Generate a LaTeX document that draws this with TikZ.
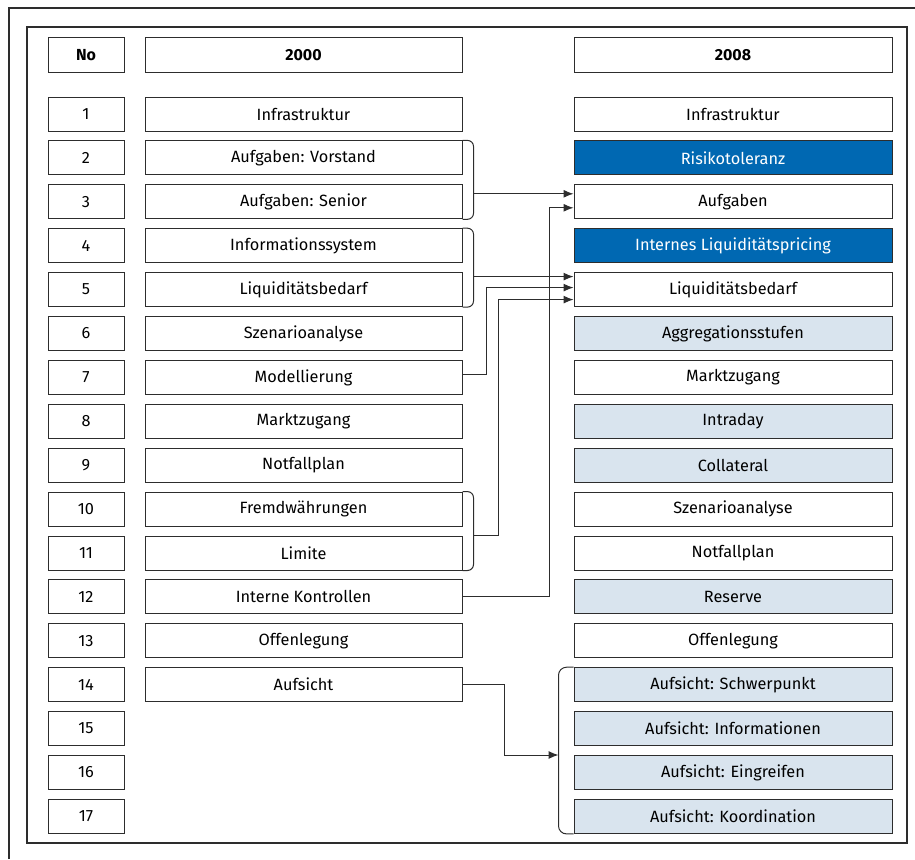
\documentclass[tikz,border=0pt]{standalone}
\usepackage{fontspec}
\setmainfont{Fira Sans}
\usetikzlibrary{arrows.meta,calc}
\definecolor{dblue}{RGB}{0,104,178}
\definecolor{lblue}{RGB}{217,228,238}
\definecolor{lc}{RGB}{45,45,45}
\begin{document}
\begin{tikzpicture}[x=1pt,y=-1pt,
  box/.style={draw=lc, line width=1.0pt, minimum height=34pt, inner sep=0pt,
              font=\fontsize{16.3}{18}\selectfont, text=black},
  nobox/.style={box, minimum width=76pt},
  obox/.style={box, minimum width=317pt},
  nbox/.style={box, minimum width=318pt},
  hdr/.style={font=\fontsize{16}{18}\selectfont\bfseries},
  plain/.style={fill=white},
  dark/.style={fill=dblue, text=white},
  light/.style={fill=lblue},
  conn/.style={draw=lc, line width=1.0pt},
  brk/.style={conn, rounded corners=6pt},
  arr/.style={conn, -{Latex[length=10pt,width=8pt]}},
  frame/.style={draw=lc, line width=1.2pt}
]
\useasboundingbox (0,0) rectangle (915,859);
% frames
\draw[frame] (9,859) -- (9,8) -- (915,8);
\draw[frame] (27,27) rectangle (907,843);
% headers
\node[nobox,hdr] (nh) at (86,55) {No};
\node[obox,hdr] (ah) at (303.5,55) {2000};
\node[nbox,hdr] (bh) at (733,55) {2008};
% numbers
\foreach \i in {1,...,17}
  \node[nobox] (n\i) at (86,{114+43.9*(\i-1)}) {\i};
% 2000 column
\foreach \i/\t in {1/Infrastruktur, 2/Aufgaben: Vorstand, 3/Aufgaben: Senior,
  4/Informationssystem, 5/Liquiditätsbedarf, 6/Szenarioanalyse, 7/Modellierung,
  8/Marktzugang, 9/Notfallplan, 10/Fremdwährungen, 11/Limite,
  12/Interne Kontrollen, 13/Offenlegung, 14/Aufsicht}
  \node[obox] (a\i) at (303.5,{114+43.9*(\i-1)}) {\t};
% 2008 column
\foreach \i/\t/\s in {1/Infrastruktur/plain, 2/Risikotoleranz/dark,
  3/Aufgaben/plain, 4/Internes Liquiditätspricing/dark,
  5/Liquiditätsbedarf/plain, 6/Aggregationsstufen/light,
  7/Marktzugang/plain, 8/Intraday/light, 9/Collateral/light,
  10/Szenarioanalyse/plain, 11/Notfallplan/plain, 12/Reserve/light,
  13/Offenlegung/plain, 14/Aufsicht: Schwerpunkt/light,
  15/Aufsicht: Informationen/light, 16/Aufsicht: Eingreifen/light,
  17/Aufsicht: Koordination/light}
  \node[nbox,\s] (b\i) at (733,{114+43.9*(\i-1)}) {\t};
% brackets
\draw[brk] (a2.north east) -- ++(11,0) -- ([xshift=11pt]a3.south east) -- (a3.south east);
\draw[brk] (a4.north east) -- ++(11,0) -- ([xshift=11pt]a5.south east) -- (a5.south east);
\draw[brk] (a10.north east) -- ++(11,0) -- ([xshift=11pt]a11.south east) -- (a11.south east);
\draw[conn, rounded corners=8pt] (b14.north west) -- ++(-15,0) -- ([xshift=-15pt]b17.south west) -- (b17.south west);
% connectors
\draw[arr] ([xshift=11pt,yshift=8pt]a3.east) -- ([yshift=8pt]b3.west);
\draw[arr] ([xshift=11pt,yshift=13pt]a5.east) -- ([yshift=13pt]b5.west);
\draw[arr] ([yshift=3pt]a7.east) -- ++(24,0) |- ([yshift=2pt]b5.west);
\draw[arr] ([xshift=11pt]a11.north east) -- ++(25,0) |- ([yshift=-10pt]b5.west);
\draw[arr] (a12.east) -- ++(87,0) |- ([yshift=-6pt]b3.west);
\draw[arr] (a14.east) -- ++(42,0) |- ([xshift=-15pt]b16.north west);
\end{tikzpicture}
\end{document}
